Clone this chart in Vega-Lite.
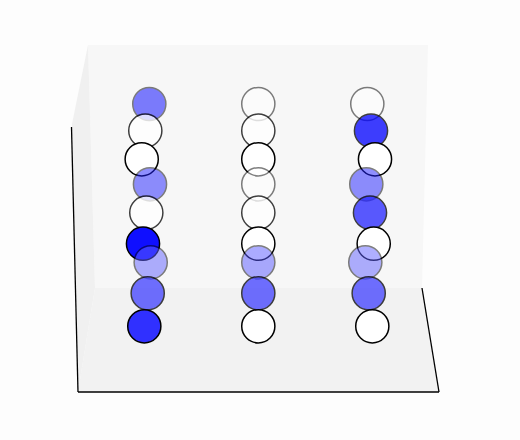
{
  "$schema": "https://vega.github.io/schema/vega-lite/v6.json",
  "width": 520,
  "height": 440,
  "autosize": {"type": "fit", "contains": "padding"},
  "padding": 0,
  "background": "#fdfdfd",
  "config": {"view": {"stroke": null}, "axis": {"disable": true}},
  "datasets": {
    "panes": [
      {"pane": "back", "v": 45, "a": 88, "b": 428},
      {"pane": "back", "v": 288, "a": 95, "b": 422},
      {"pane": "floor", "v": 288, "a": 95, "b": 422},
      {"pane": "floor", "v": 392, "a": 78, "b": 439},
      {"pane": "left", "v": 45, "a": 88, "b": 88},
      {"pane": "left", "v": 124, "a": 72, "b": 90.3},
      {"pane": "left", "v": 288, "a": 75.7, "b": 95},
      {"pane": "left", "v": 392, "a": 78, "b": 78}
    ],
    "edges": [
      {"edge": "left", "u": 71.5, "v": 127},
      {"edge": "left", "u": 78, "v": 392},
      {"edge": "bottom", "u": 78, "v": 392},
      {"edge": "bottom", "u": 439, "v": 392},
      {"edge": "right", "u": 422, "v": 288},
      {"edge": "right", "u": 439, "v": 392}
    ],
    "points": [
      {"u": 149.3, "v": 104, "val": 1.0, "depth": 0},
      {"u": 258.3, "v": 104, "val": 0, "depth": 0},
      {"u": 367.3, "v": 104, "val": 0, "depth": 0},
      {"u": 145.3, "v": 130.7, "val": 0, "depth": 1},
      {"u": 258.3, "v": 130.7, "val": 0, "depth": 1},
      {"u": 371, "v": 130.7, "val": 1.0, "depth": 1},
      {"u": 141.7, "v": 159.3, "val": 0, "depth": 2},
      {"u": 258.3, "v": 159.3, "val": 0, "depth": 2},
      {"u": 375, "v": 159.3, "val": 0, "depth": 2},
      {"u": 150, "v": 184.3, "val": 0.87, "depth": 0},
      {"u": 258.3, "v": 184.3, "val": 0, "depth": 0},
      {"u": 366.3, "v": 184.3, "val": 0.87, "depth": 0},
      {"u": 146.3, "v": 212.7, "val": 0, "depth": 1},
      {"u": 258.3, "v": 212.7, "val": 0, "depth": 1},
      {"u": 370, "v": 212.7, "val": 0.86, "depth": 1},
      {"u": 143, "v": 243.7, "val": 0.94, "depth": 2},
      {"u": 258.3, "v": 243.7, "val": 0, "depth": 2},
      {"u": 373.7, "v": 243.7, "val": 0, "depth": 2},
      {"u": 150.7, "v": 262.3, "val": 0.62, "depth": 0},
      {"u": 258.3, "v": 262.3, "val": 0.65, "depth": 0},
      {"u": 365.3, "v": 262.3, "val": 0.62, "depth": 0},
      {"u": 147.7, "v": 293.3, "val": 0.75, "depth": 1},
      {"u": 258.3, "v": 293.3, "val": 0.75, "depth": 1},
      {"u": 368.7, "v": 293.3, "val": 0.75, "depth": 1},
      {"u": 144.3, "v": 326.3, "val": 0.81, "depth": 2},
      {"u": 258.3, "v": 326.3, "val": 0, "depth": 2},
      {"u": 372.3, "v": 326.3, "val": 0, "depth": 2}
    ]
  },
  "layer": [
    {
      "data": {"name": "panes"},
      "mark": {"type": "area", "orient": "horizontal", "strokeWidth": 0},
      "encoding": {
        "y": {"field": "v", "type": "quantitative", "scale": {"domain": [0, 440], "reverse": true, "nice": false, "zero": false}},
        "x": {"field": "a", "type": "quantitative", "scale": {"domain": [0, 520], "nice": false, "zero": false}},
        "x2": {"field": "b"},
        "detail": {"field": "pane"},
        "color": {"field": "pane", "type": "nominal", "legend": null, "scale": {"domain": ["back", "floor", "left"], "range": ["#f7f7f7", "#f2f2f2", "#f0f0f0"]}}
      }
    },
    {
      "data": {"name": "edges"},
      "mark": {"type": "line", "color": "#000000", "strokeWidth": 1.3},
      "encoding": {
        "x": {"field": "u", "type": "quantitative"},
        "y": {"field": "v", "type": "quantitative"},
        "detail": {"field": "edge"}
      }
    },
    {
      "data": {"name": "points"},
      "mark": {"type": "point", "shape": "circle", "filled": false, "size": 1100, "stroke": "#000000", "strokeWidth": 1.5},
      "encoding": {
        "x": {"field": "u", "type": "quantitative"},
        "y": {"field": "v", "type": "quantitative"},
        "fill": {"field": "val", "type": "quantitative", "legend": null, "scale": {"domain": [0, 1], "range": ["#ffffff", "#0000ff"], "interpolate": "rgb"}},
        "opacity": {"field": "depth", "type": "quantitative", "legend": null, "scale": {"domain": [0, 2], "range": [0.5, 1]}}
      }
    }
  ]
}
